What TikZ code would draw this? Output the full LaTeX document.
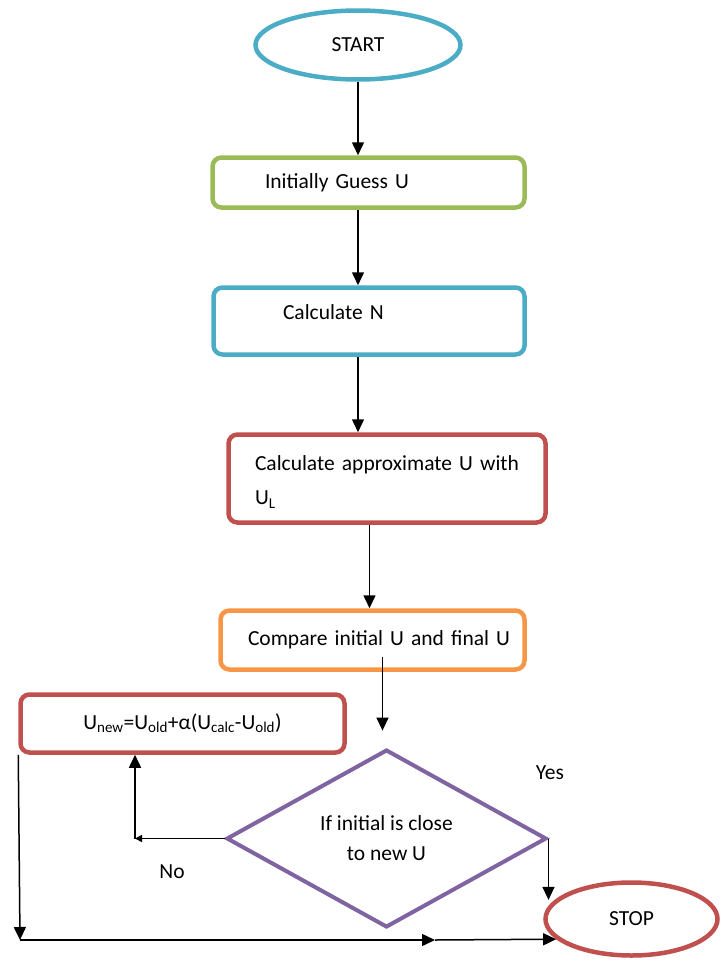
\documentclass[tikz,border=0pt]{standalone}
\usepackage{fontspec}
\setmainfont{Carlito}
\usepackage{tikz}
\usetikzlibrary{shapes.geometric,arrows.meta}

\definecolor{aqualine}{HTML}{4BACC6}
\definecolor{greenline}{HTML}{9BBB59}
\definecolor{redline}{HTML}{C0504D}
\definecolor{orangeline}{HTML}{F79646}
\definecolor{purpleline}{HTML}{8064A2}

\tikzset{
  flowbox/.style = {draw, line width=4.5pt, rounded corners=9pt, align=left},
  termin/.style  = {draw, ellipse, line width=4.5pt, inner sep=0pt},
  smalltip/.style = {>={Triangle[length=7pt,width=7pt]}}
}

\begin{document}
\begin{tikzpicture}[x=1pt, y=-1pt, line width=1.5pt,
    >={Triangle[length=13pt,width=12pt]},
    font=\fontsize{21.5}{30}\selectfont]
        \useasboundingbox (0,0) rectangle (725,961);

        % terminals
        \node[termin, draw=aqualine, minimum width=205pt, minimum height=69pt] (start) at (358,45) {START};
        \node[termin, draw=redline, minimum width=172pt, minimum height=73pt] (stop) at (631.5,919) {STOP};

        % process boxes
        \node[flowbox, draw=greenline, minimum width=312pt, minimum height=50pt,
              inner xsep=52.5pt, text width=207pt] (guess) at (368.5,182.5) {\mbox{Initially Guess U}};
        \node[flowbox, draw=aqualine, minimum width=311pt, minimum height=67pt,
              inner xsep=69.5pt, text width=172pt, text depth=18pt] (calcn) at (369,321) {\mbox{Calculate N}};
        \node[flowbox, draw=redline, minimum width=317pt, minimum height=88pt,
              inner xsep=26.5pt, text width=264pt, text height=22pt] (approx) at (387,478.5)
              {\mbox{Calculate approximate U with}\\[4pt]U\textsubscript{L}};
        \node[flowbox, draw=orangeline, minimum width=304pt, minimum height=59pt,
              inner xsep=27.5pt, text width=249pt] (compare) at (372.5,640) {\mbox{Compare initial U and final U}};
        \node[flowbox, draw=redline, minimum width=324pt, minimum height=58pt, align=center] (update) at (182.5,723.5)
              {U\textsubscript{new}=U\textsubscript{old}+α(U\textsubscript{calc}-U\textsubscript{old})};

        % decision
        \node[draw=purpleline, diamond, line width=4pt, inner sep=0pt, align=center,
              minimum width=320pt, minimum height=162pt] (check) at (386.5,838.5) {If initial is close\\to new U};

        \node (yes) at (550,773) {Yes};
        \node (no) at (172,872) {No};

        % main flow
        \draw [->] (start.south) -- (start.south |- guess.north);
        \draw [->] (guess.south -| start.south) -- (calcn.north -| start.south);
        \draw [->] (calcn.south -| start.south) -- (approx.north -| start.south);
        \draw [->] ([xshift=-3pt]approx.south -| compare.north) -- ([xshift=-3pt]compare.north);
        \draw [->] ([yshift=15pt, xshift=-4pt]compare.south -| check.north) -- ([yshift=17pt, xshift=-4pt]check.north);

        % no branch
        \coordinate (nocorner) at (135,838.5);
        \draw [->, smalltip] (check.west) -- (nocorner);
        \draw [->] (nocorner) -- (nocorner |- update.south);

        % back round the bottom
        \coordinate (lowcorner) at (20,940);
        \coordinate (midtip) at (435,940);
        \draw [->] (update.south west) -- (lowcorner);
        \draw [->] (lowcorner) -- (midtip);
        \draw [->] (midtip) -- (stop.195);

        % yes branch
        \draw [->] (check.east) -- (check.east |- stop.166);
      \end{tikzpicture}
\end{document}
